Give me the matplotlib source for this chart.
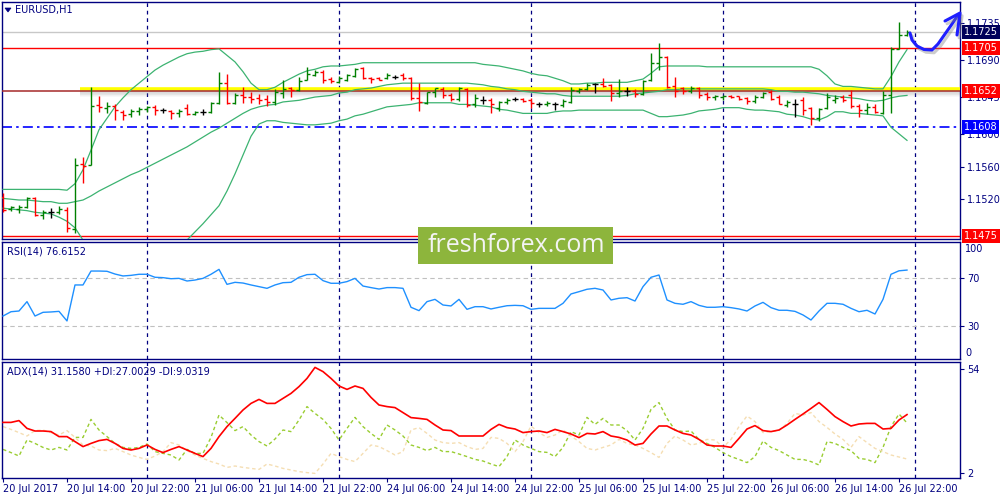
import matplotlib
matplotlib.use("Agg")
import matplotlib.pyplot as plt
import matplotlib.patheffects as pe
import matplotlib.transforms as mtransforms
from matplotlib.patches import Rectangle, Polygon
from matplotlib.lines import Line2D
import numpy as np

# ===== DATA: EURUSD H1, 20 Jul 06:00 .. 26 Jul 23:00 =====
opens = [
    1.1523, 1.1508, 1.1508, 1.1510, 1.1522, 1.1501, 1.1504, 1.1504, 1.1507, 1.1484,
    1.1563, 1.1562, 1.1635, 1.1632, 1.1634, 1.1627, 1.1624, 1.1628, 1.1630, 1.1633,
    1.1629, 1.1628, 1.1626, 1.1632, 1.1624, 1.1627, 1.1627, 1.1638, 1.1662, 1.1638,
    1.1648, 1.1645, 1.1644, 1.1643, 1.1639, 1.1650, 1.1656, 1.1654, 1.1666, 1.1672,
    1.1676, 1.1667, 1.1663, 1.1666, 1.1671, 1.1681, 1.1668, 1.1668, 1.1668, 1.1670,
    1.1672, 1.1668, 1.1644, 1.1638, 1.1651, 1.1655, 1.1648, 1.1643, 1.1655, 1.1636,
    1.1641, 1.1641, 1.1632, 1.1639, 1.1643, 1.1643, 1.1641, 1.1636, 1.1636, 1.1636,
    1.1635, 1.1639, 1.1652, 1.1655, 1.1661, 1.1661, 1.1660, 1.1650, 1.1652, 1.1652,
    1.1649, 1.1666, 1.1687, 1.1694, 1.1658, 1.1656, 1.1652, 1.1656, 1.1649, 1.1645,
    1.1645, 1.1646, 1.1646, 1.1644, 1.1640, 1.1645, 1.1651, 1.1645, 1.1635, 1.1636,
    1.1641, 1.1632, 1.1619, 1.1632, 1.1641, 1.1645, 1.1647, 1.1634, 1.1629, 1.1633,
    1.1626, 1.1648, 1.1704, 1.1721,
]
highs = [
    1.1528, 1.1512, 1.1513, 1.1523, 1.1523, 1.1507, 1.1509, 1.1512, 1.1510, 1.1570,
    1.1572, 1.1657, 1.1646, 1.1639, 1.1636, 1.1629, 1.1630, 1.1633, 1.1634, 1.1635,
    1.1632, 1.1629, 1.1630, 1.1636, 1.1628, 1.1630, 1.1639, 1.1676, 1.1673, 1.1650,
    1.1657, 1.1651, 1.1649, 1.1648, 1.1655, 1.1666, 1.1657, 1.1670, 1.1682, 1.1678,
    1.1678, 1.1670, 1.1671, 1.1673, 1.1681, 1.1682, 1.1670, 1.1670, 1.1674, 1.1672,
    1.1674, 1.1670, 1.1662, 1.1651, 1.1656, 1.1657, 1.1650, 1.1657, 1.1656, 1.1649,
    1.1646, 1.1644, 1.1640, 1.1644, 1.1645, 1.1644, 1.1644, 1.1639, 1.1640, 1.1639,
    1.1643, 1.1657, 1.1656, 1.1662, 1.1662, 1.1668, 1.1661, 1.1667, 1.1657, 1.1655,
    1.1666, 1.1699, 1.1711, 1.1695, 1.1669, 1.1657, 1.1658, 1.1657, 1.1651, 1.1648,
    1.1648, 1.1648, 1.1646, 1.1645, 1.1648, 1.1651, 1.1654, 1.1648, 1.1641, 1.1643,
    1.1645, 1.1633, 1.1632, 1.1650, 1.1647, 1.1647, 1.1654, 1.1636, 1.1638, 1.1636,
    1.1652, 1.1706, 1.1737, 1.1727,
]
lows = [
    1.1504, 1.1506, 1.1503, 1.1509, 1.1499, 1.1496, 1.1497, 1.1502, 1.1480, 1.1479,
    1.1540, 1.1562, 1.1627, 1.1626, 1.1617, 1.1617, 1.1621, 1.1623, 1.1627, 1.1623,
    1.1626, 1.1618, 1.1621, 1.1623, 1.1623, 1.1623, 1.1626, 1.1637, 1.1637, 1.1637,
    1.1638, 1.1638, 1.1637, 1.1634, 1.1635, 1.1644, 1.1645, 1.1652, 1.1666, 1.1671,
    1.1662, 1.1662, 1.1662, 1.1665, 1.1670, 1.1667, 1.1662, 1.1666, 1.1667, 1.1667,
    1.1666, 1.1641, 1.1628, 1.1636, 1.1645, 1.1644, 1.1640, 1.1640, 1.1633, 1.1633,
    1.1636, 1.1625, 1.1628, 1.1636, 1.1640, 1.1639, 1.1632, 1.1633, 1.1634, 1.1629,
    1.1633, 1.1638, 1.1650, 1.1654, 1.1650, 1.1657, 1.1640, 1.1645, 1.1646, 1.1645,
    1.1648, 1.1665, 1.1678, 1.1656, 1.1645, 1.1649, 1.1650, 1.1644, 1.1641, 1.1641,
    1.1641, 1.1644, 1.1641, 1.1637, 1.1638, 1.1644, 1.1641, 1.1636, 1.1633, 1.1621,
    1.1623, 1.1611, 1.1616, 1.1630, 1.1638, 1.1639, 1.1632, 1.1621, 1.1624, 1.1625,
    1.1624, 1.1626, 1.1704, 1.1720,
]
closes = [
    1.1507, 1.1510, 1.1510, 1.1522, 1.1501, 1.1504, 1.1504, 1.1508, 1.1485, 1.1562,
    1.1561, 1.1634, 1.1633, 1.1634, 1.1629, 1.1623, 1.1628, 1.1630, 1.1633, 1.1629,
    1.1629, 1.1626, 1.1628, 1.1624, 1.1627, 1.1627, 1.1638, 1.1662, 1.1638, 1.1648,
    1.1645, 1.1643, 1.1641, 1.1639, 1.1651, 1.1655, 1.1654, 1.1665, 1.1673, 1.1676,
    1.1666, 1.1665, 1.1668, 1.1672, 1.1679, 1.1668, 1.1667, 1.1666, 1.1672, 1.1670,
    1.1668, 1.1644, 1.1639, 1.1651, 1.1656, 1.1648, 1.1643, 1.1656, 1.1635, 1.1644,
    1.1641, 1.1636, 1.1639, 1.1641, 1.1643, 1.1640, 1.1638, 1.1636, 1.1638, 1.1636,
    1.1640, 1.1654, 1.1655, 1.1660, 1.1661, 1.1658, 1.1650, 1.1652, 1.1652, 1.1649,
    1.1665, 1.1687, 1.1694, 1.1657, 1.1653, 1.1652, 1.1656, 1.1648, 1.1645, 1.1646,
    1.1646, 1.1645, 1.1643, 1.1640, 1.1645, 1.1650, 1.1643, 1.1637, 1.1639, 1.1636,
    1.1629, 1.1619, 1.1630, 1.1645, 1.1644, 1.1641, 1.1634, 1.1629, 1.1633, 1.1627,
    1.1648, 1.1704, 1.1721, 1.1725,
]

# Bollinger Bands
bb_upper = [
    1.1532, 1.1532, 1.1532, 1.1532, 1.1532, 1.1532, 1.1532, 1.1532, 1.1531, 1.1539,
    1.1556, 1.1580, 1.1605, 1.1619, 1.1633, 1.1644, 1.1654, 1.1662, 1.1670, 1.1678,
    1.1684, 1.1689, 1.1694, 1.1698, 1.1700, 1.1701, 1.1703, 1.1704, 1.1696, 1.1688,
    1.1676, 1.1662, 1.1654, 1.1654, 1.1657, 1.1663, 1.1668, 1.1673, 1.1677, 1.1679,
    1.1682, 1.1683, 1.1683, 1.1684, 1.1685, 1.1687, 1.1687, 1.1687, 1.1687, 1.1687,
    1.1687, 1.1687, 1.1687, 1.1687, 1.1687, 1.1687, 1.1687, 1.1687, 1.1687, 1.1687,
    1.1685, 1.1684, 1.1683, 1.1681, 1.1679, 1.1677, 1.1674, 1.1672, 1.1671, 1.1668,
    1.1665, 1.1661, 1.1661, 1.1662, 1.1662, 1.1663, 1.1663, 1.1663, 1.1663, 1.1665,
    1.1667, 1.1674, 1.1682, 1.1683, 1.1683, 1.1683, 1.1683, 1.1683, 1.1682, 1.1682,
    1.1682, 1.1682, 1.1682, 1.1682, 1.1682, 1.1682, 1.1682, 1.1682, 1.1682, 1.1682,
    1.1682, 1.1682, 1.1679, 1.1671, 1.1661, 1.1658, 1.1658, 1.1657, 1.1656, 1.1655,
    1.1655, 1.1670, 1.1688, 1.1703,
]
bb_middle = [
    1.1521, 1.1520, 1.1519, 1.1519, 1.1518, 1.1517, 1.1517, 1.1515, 1.1515, 1.1517,
    1.1519, 1.1524, 1.1530, 1.1535, 1.1540, 1.1545, 1.1550, 1.1554, 1.1559, 1.1564,
    1.1569, 1.1574, 1.1579, 1.1584, 1.1590, 1.1596, 1.1602, 1.1607, 1.1613, 1.1619,
    1.1625, 1.1630, 1.1633, 1.1635, 1.1636, 1.1639, 1.1640, 1.1641, 1.1643, 1.1645,
    1.1646, 1.1647, 1.1650, 1.1651, 1.1654, 1.1655, 1.1656, 1.1658, 1.1660, 1.1661,
    1.1662, 1.1662, 1.1662, 1.1662, 1.1662, 1.1662, 1.1662, 1.1662, 1.1662, 1.1661,
    1.1660, 1.1658, 1.1657, 1.1655, 1.1654, 1.1652, 1.1651, 1.1650, 1.1649, 1.1649,
    1.1647, 1.1646, 1.1646, 1.1646, 1.1646, 1.1646, 1.1646, 1.1646, 1.1647, 1.1649,
    1.1650, 1.1651, 1.1652, 1.1654, 1.1654, 1.1655, 1.1655, 1.1655, 1.1655, 1.1655,
    1.1655, 1.1655, 1.1655, 1.1655, 1.1655, 1.1655, 1.1654, 1.1652, 1.1652, 1.1651,
    1.1651, 1.1650, 1.1649, 1.1647, 1.1646, 1.1645, 1.1644, 1.1643, 1.1641, 1.1640,
    1.1641, 1.1644, 1.1646, 1.1647,
]
bb_lower = [
    1.1509, 1.1508, 1.1507, 1.1506, 1.1504, 1.1503, 1.1502, 1.1498, 1.1493, 1.1485,
    1.1470, 1.1458, 1.1455, 1.1451, 1.1447, 1.1446, 1.1446, 1.1447, 1.1449, 1.1451,
    1.1454, 1.1459, 1.1464, 1.1470, 1.1480, 1.1490, 1.1501, 1.1512, 1.1530, 1.1551,
    1.1574, 1.1597, 1.1612, 1.1616, 1.1616, 1.1614, 1.1613, 1.1612, 1.1611, 1.1611,
    1.1612, 1.1613, 1.1616, 1.1618, 1.1622, 1.1624, 1.1627, 1.1630, 1.1633, 1.1634,
    1.1635, 1.1636, 1.1638, 1.1638, 1.1638, 1.1638, 1.1638, 1.1636, 1.1636, 1.1635,
    1.1634, 1.1633, 1.1630, 1.1629, 1.1627, 1.1625, 1.1625, 1.1625, 1.1625, 1.1627,
    1.1628, 1.1628, 1.1629, 1.1629, 1.1629, 1.1629, 1.1629, 1.1629, 1.1629, 1.1629,
    1.1629, 1.1625, 1.1621, 1.1621, 1.1622, 1.1623, 1.1625, 1.1628, 1.1629, 1.1630,
    1.1632, 1.1632, 1.1632, 1.1630, 1.1629, 1.1629, 1.1628, 1.1627, 1.1624, 1.1623,
    1.1621, 1.1618, 1.1617, 1.1621, 1.1627, 1.1627, 1.1625, 1.1625, 1.1624, 1.1623,
    1.1622, 1.1608, 1.1600, 1.1592,
]

rsi = [
    38.3, 41.9, 42.5, 50.3, 38.3, 41.4, 41.7, 42.2, 34.2, 64.2,
    64.2, 75.8, 75.8, 75.6, 73.3, 71.7, 72.2, 73.1, 73.1, 70.6,
    70.3, 69.4, 69.7, 67.5, 68.3, 69.7, 73.1, 77.2, 64.7, 66.4,
    65.8, 64.2, 62.8, 61.4, 64.2, 66.1, 66.4, 70.6, 72.8, 73.1,
    67.8, 65.6, 65.6, 67.0, 69.7, 63.3, 62.0, 60.8, 62.0, 62.0,
    61.4, 45.6, 42.8, 50.3, 52.2, 47.5, 46.7, 52.2, 43.9, 46.1,
    46.1, 44.2, 45.6, 46.9, 47.2, 46.9, 43.9, 44.7, 44.7, 44.7,
    48.9, 56.7, 58.6, 60.6, 61.4, 60.0, 51.7, 53.1, 53.6, 50.8,
    62.8, 70.6, 72.5, 51.7, 48.9, 48.1, 50.3, 47.2, 45.6, 45.6,
    46.1, 45.3, 44.2, 42.5, 46.7, 49.7, 45.3, 43.1, 43.1, 42.2,
    39.2, 35.0, 42.5, 48.9, 48.9, 48.1, 44.7, 41.9, 43.1, 40.0,
    52.2, 73.1, 76.0, 76.6,
]

adx = [
    27.3, 27.3, 28.2, 24.3, 23.0, 23.0, 22.7, 20.2, 20.2, 17.7,
    15.2, 16.8, 18.2, 18.8, 16.8, 14.3, 13.5, 14.3, 16.0, 13.8,
    12.2, 13.8, 15.2, 13.5, 11.8, 10.2, 14.3, 20.2, 25.2, 29.3,
    33.5, 36.8, 38.8, 36.8, 36.8, 39.3, 41.8, 45.2, 49.3, 54.8,
    52.7, 49.3, 45.5, 43.8, 45.5, 44.3, 39.8, 36.0, 35.2, 34.7,
    32.2, 29.7, 29.3, 28.8, 26.0, 23.5, 23.2, 20.5, 20.5, 20.5,
    20.5, 23.8, 26.3, 24.7, 24.0, 22.2, 22.7, 23.0, 22.2, 23.8,
    22.7, 21.5, 19.7, 21.8, 21.5, 22.7, 20.5, 19.8, 18.5, 16.0,
    16.8, 21.5, 25.5, 25.5, 23.5, 21.8, 21.0, 18.8, 16.0, 15.5,
    15.5, 14.8, 19.3, 24.0, 25.7, 23.2, 22.7, 23.5, 26.0, 28.8,
    31.5, 34.3, 37.2, 33.8, 30.2, 27.7, 25.5, 26.5, 26.8, 26.8,
    24.0, 24.3, 28.5, 31.2,
]
plus_di = [
    13.8, 12.2, 10.5, 18.5, 16.8, 14.8, 13.5, 14.8, 13.5, 19.8,
    19.8, 28.8, 23.5, 20.2, 16.8, 14.8, 14.3, 14.8, 16.5, 12.7,
    11.8, 11.0, 8.5, 13.8, 11.8, 11.8, 19.8, 31.0, 27.2, 23.2,
    25.2, 21.0, 17.7, 15.5, 19.0, 23.5, 22.7, 28.5, 35.2, 31.8,
    28.8, 24.3, 18.5, 24.3, 29.8, 25.2, 21.8, 18.8, 26.0, 23.5,
    20.5, 16.0, 14.8, 13.2, 14.8, 12.7, 12.7, 11.5, 10.2, 8.8,
    8.0, 6.5, 5.2, 10.2, 18.5, 16.0, 14.3, 12.7, 12.3, 10.2,
    14.8, 22.7, 21.0, 29.8, 26.3, 29.3, 26.0, 26.0, 23.2, 18.5,
    24.3, 33.8, 37.2, 29.3, 23.5, 22.7, 23.0, 18.8, 16.8, 14.8,
    12.2, 10.2, 8.8, 7.2, 10.2, 18.0, 14.8, 13.2, 11.0, 8.8,
    8.8, 7.7, 6.0, 17.7, 16.8, 14.8, 13.2, 9.3, 8.8, 7.2,
    14.8, 25.2, 31.5, 27.0,
]
minus_di = [
    25.2, 23.8, 22.2, 20.5, 23.2, 23.5, 22.2, 21.0, 23.2, 19.8,
    16.0, 15.5, 13.5, 13.2, 14.3, 12.7, 11.0, 9.8, 8.8, 10.5,
    12.7, 17.2, 16.0, 13.2, 11.0, 9.3, 7.7, 6.5, 4.8, 5.5,
    4.8, 4.3, 3.8, 6.5, 5.5, 4.3, 3.5, 2.7, 2.2, 1.8,
    6.5, 11.8, 10.2, 8.8, 7.7, 11.8, 16.0, 15.2, 13.2, 11.0,
    12.7, 23.5, 24.7, 21.8, 18.5, 17.2, 16.8, 17.2, 15.2, 13.8,
    14.3, 19.8, 19.3, 16.8, 12.7, 17.7, 25.5, 22.2, 19.8, 21.0,
    23.5, 20.5, 17.7, 14.3, 13.5, 14.8, 16.0, 18.8, 16.8, 16.0,
    14.3, 12.2, 9.8, 16.8, 20.5, 18.5, 16.0, 16.8, 18.8, 18.5,
    14.8, 18.8, 25.2, 30.5, 27.7, 22.2, 22.7, 23.2, 26.8, 31.8,
    31.0, 32.2, 27.7, 24.8, 21.5, 18.8, 14.8, 20.2, 17.2, 14.3,
    12.7, 11.0, 10.0, 9.0,
]

time_labels = [
    '20 Jul 2017', '20 Jul 14:00', '20 Jul 22:00', '21 Jul 06:00', '21 Jul 14:00',
    '21 Jul 22:00', '24 Jul 06:00', '24 Jul 14:00', '24 Jul 22:00', '25 Jul 06:00',
    '25 Jul 14:00', '25 Jul 22:00', '26 Jul 06:00', '26 Jul 14:00', '26 Jul 22:00',
]
price_ticks = [1.1735, 1.1690, 1.1645, 1.1600, 1.1560, 1.1520]

bid_price = 1.1725
resistance = 1.1705
support = 1.1652
pivot = 1.1608
low_level = 1.1475

NAVY = '#000080'
GREEN = '#008000'
RED = '#ff0000'
BB_COLOR = '#3cb371'

W, H = 1000, 500


def px_box(x0, y0, x1, y1):
    # pixel rectangle (top-left origin) -> figure fraction
    return [x0 / W, 1 - y1 / H, (x1 - x0) / W, (y1 - y0) / H]


def fpt(px, py):
    return px / W, 1 - py / H


fig = plt.figure(figsize=(10, 5), dpi=100)
ax_p = fig.add_axes(px_box(2, 2, 960, 239))
ax_r = fig.add_axes(px_box(2, 242, 960, 359))
ax_a = fig.add_axes(px_box(2, 362, 960, 478))

x = np.arange(len(opens))
day_starts = [18, 42, 66, 90, 114]   # 21, 24, 25, 26, 27 Jul 00:00

for ax in (ax_p, ax_r, ax_a):
    ax.set_xlim(-0.125, 119.625)
    for s in ax.spines.values():
        s.set_color(NAVY)
        s.set_linewidth(1)
    for b in day_starts:
        ax.axvline(b, color=NAVY, lw=0.9, ls=(0, (3, 3)), zorder=1)
    ax.yaxis.tick_right()
    ax.tick_params(axis='y', direction='out', length=3, width=0.8, color=NAVY,
                   labelcolor=NAVY, labelsize=7, pad=2)
    ax.set_xticks([])

# ===== PRICE =====
ax_p.set_ylim(1.14713, 1.17613)
o = np.array(opens)
c = np.array(closes)
bar_colors = np.where(c > o, GREEN, np.where(c < o, RED, 'black'))
ax_p.vlines(x, lows, highs, colors=bar_colors, lw=1, zorder=5)
ax_p.hlines(opens, x - 0.4, x, colors=bar_colors, lw=1, zorder=5)
ax_p.hlines(closes, x, x + 0.4, colors=bar_colors, lw=1, zorder=5)

for band in (bb_upper, bb_middle, bb_lower):
    ax_p.plot(x, band, color=BB_COLOR, lw=0.9, zorder=4)

ax_p.axhline(bid_price, color='#c8c8c8', lw=1, zorder=2)
ax_p.axhline(resistance, color=RED, lw=1, zorder=2)
ax_p.axhline(low_level, color=RED, lw=1, zorder=2)
ax_p.axhline(pivot, color='#0000ff', lw=1.2, ls=(0, (6, 2.5, 1.5, 2.5)), zorder=2)

# highlighted level with shadow
for k in range(7):
    ax_p.fill_between([9.6, 119.7], support - 0.0001 * (k + 1), support,
                      color='gray', alpha=0.05, lw=0, zorder=2)
ax_p.hlines(support + 0.00027, 9.6, 119.7, color='#ffff00', lw=2.6, zorder=3)
ax_p.axhline(support, color='#a52a2a', lw=1.1, zorder=3)

ax_p.set_yticks(price_ticks)
ax_p.set_yticklabels([f'{v:.4f}' for v in price_ticks])

trans = mtransforms.blended_transform_factory(ax_p.transAxes, ax_p.transData)
for val, fc in [(bid_price, '#00005a'), (resistance, RED), (support, RED),
                (pivot, '#0000ff'), (low_level, RED)]:
    ax_p.text(1.004, val, f'{val:.4f}', transform=trans, color='white', fontsize=7,
              va='center', ha='left', clip_on=False, zorder=8,
              bbox=dict(boxstyle='square,pad=0.2', fc=fc, ec='none'))

# ===== RSI =====
ax_r.set_ylim(2.5, 100)
ax_r.axhline(70, color='#c0c0c0', lw=0.8, ls=(0, (4, 3)), zorder=1)
ax_r.axhline(30, color='#c0c0c0', lw=0.8, ls=(0, (4, 3)), zorder=1)
ax_r.plot(x, rsi, color='#1e90ff', lw=1, zorder=3)
ax_r.set_yticks([70, 30])
ax_r.set_yticklabels(['70', '30'])
for yf, lab in [(0.94, '100'), (0.05, '0')]:
    ax_r.text(1.0052, yf, lab, transform=ax_r.transAxes, color=NAVY, fontsize=7,
              va='center', ha='left', clip_on=False)

# ===== ADX =====
ax_a.set_ylim(-0.5, 57.5)
ax_a.plot(x, plus_di, color='#9acd32', lw=1, ls=(0, (2.5, 2)), zorder=2)
ax_a.plot(x, minus_di, color='#f5deb3', lw=1, ls=(0, (2.5, 2)), zorder=2)
ax_a.plot(x, adx, color=RED, lw=1.2, zorder=3)
ax_a.set_yticks([54, 2])
ax_a.set_yticklabels(['54', '2'])

label_bars = list(range(0, len(x), 8))
ax_a.set_xticks(label_bars)
ax_a.set_xticklabels(time_labels, ha='left')
ax_a.tick_params(axis='x', direction='out', length=3, width=0.8, color=NAVY,
                 labelcolor=NAVY, labelsize=7, pad=1)

# ===== window titles =====
fig.add_artist(Polygon([fpt(5, 8), fpt(11, 8), fpt(8, 12)], closed=True,
                       transform=fig.transFigure, fc=NAVY, ec=NAVY, lw=0.5, zorder=9))
fig.text(*fpt(15, 10), 'EURUSD,H1', color=NAVY, fontsize=7, va='center', ha='left', zorder=9)
fig.text(*fpt(7, 251), 'RSI(14) 76.6152', color=NAVY, fontsize=7, va='center', ha='left', zorder=9)
fig.text(*fpt(7, 372), 'ADX(14) 31.1580 +DI:27.0029 -DI:9.0319', color=NAVY, fontsize=7,
         va='center', ha='left', zorder=9)

# ===== watermark =====
fig.add_artist(Rectangle(fpt(418, 264), 195 / W, 37 / H, transform=fig.transFigure,
                         fc='#8db53c', ec='none', zorder=10))
fig.text(*fpt(516, 245), 'freshforex.com', color='#f4f4f4', fontsize=18,
         family='Open Sans', va='center', ha='center', zorder=11)

# ===== hand-drawn forecast arrow =====
arrow_path = [(910, 33), (912, 40), (917, 46), (924, 49.5), (932, 50), (938, 44),
              (945, 34), (952, 24), (958, 15)]
arrow_head = [(945, 21), (960, 13), (957, 35)]
for pts in (arrow_path, arrow_head):
    xs, ys = zip(*[fpt(px, py) for px, py in pts])
    fig.add_artist(Line2D(xs, ys, transform=fig.transFigure, color='#1f1fff', lw=2.2,
                          solid_capstyle='round', solid_joinstyle='round', zorder=12,
                          path_effects=[pe.SimpleLineShadow(offset=(1.5, -2), shadow_color='gray', alpha=0.4),
                                        pe.Normal()]))

fig.savefig('out.png', dpi=100)
